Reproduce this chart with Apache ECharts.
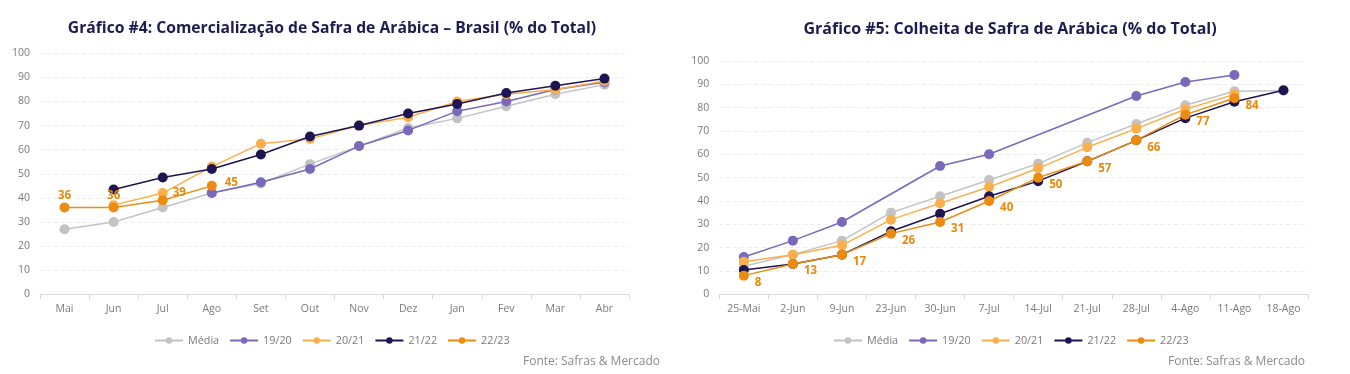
<!DOCTYPE html>
<html><head><meta charset="utf-8">
<script src="https://cdn.jsdelivr.net/npm/echarts@6/dist/echarts.min.js"></script>
<style>html,body{margin:0;padding:0;background:#fff}#c{width:1350px;height:374px}</style>
</head><body><div id="c"></div>
<script>
// Chart #4 data
const cat1 = ['Mai','Jun','Jul','Ago','Set','Out','Nov','Dez','Jan','Fev','Mar','Abr'];
const media1 = [27,30,36,42,46,54,61.5,69,73,78,83,87];
const s1920_1 = [null,null,null,42,46.5,52,61.5,68,76,80,85,88];
const s2021_1 = [null,37,42,53,62.5,64.5,70,73.5,80,83,85,88.5];
const s2122_1 = [null,43.5,48.5,52,58,65.5,70,75,79,83.5,86.5,89.5];
const s2223_1 = [36,36,39,45,null,null,null,null,null,null,null,null];
// Chart #5 data
const cat2 = ['25-Mai','2-Jun','9-Jun','23-Jun','30-Jun','7-Jul','14-Jul','21-Jul','28-Jul','4-Ago','11-Ago','18-Ago'];
const media2 = [12,17,23,35,42,49,56,65,73,81,87,87.3];
const s1920_2 = [16,23,31,null,55,60,null,null,85,91,94,null];
const s2021_2 = [14,17,21,32,39,46,54,63,71,79.3,85.7,null];
const s2122_2 = [10.4,13,17,27,34.5,42,48.5,57,66,75.5,82.5,87.5];
const s2223_2 = [8,13,17,26,31,40,50,57,66,77,84,null];
const names = ['Média','19/20','20/21','21/22','22/23'];
const colors = ['#c3c3c3','#7a68bb','#f9b04c','#1f1452','#eb8c10'];

const FONT = 'Open Sans';
const chart = echarts.init(document.getElementById('c'));
function xAxis(i, cats){
  return {type:'category', gridIndex:i, data:cats, boundaryGap:true,
    axisLine:{lineStyle:{color:'#d9d9d9'}},
    axisTick:{show:true, length:5, lineStyle:{color:'#d9d9d9'}},
    axisLabel:{color:'#7a7a7a', fontSize:10.5, fontFamily:FONT, margin:9}};
}
function yAxis(i){
  return {type:'value', gridIndex:i, min:0, max:100, interval:10,
    axisLine:{show:false}, axisTick:{show:false},
    splitLine:{lineStyle:{color:'#ececec', type:[4,3]}},
    axisLabel:{color:'#7a7a7a', fontSize:10.5, fontFamily:FONT, margin:10}};
}
const series = [];
const d1 = [media1,s1920_1,s2021_1,s2122_1,s2223_1];
const d2 = [media2,s1920_2,s2021_2,s2122_2,s2223_2];
function mk(k, data, gi, labels){
  const s = {name:names[k], type:'line', xAxisIndex:gi, yAxisIndex:gi, data:data,
    connectNulls:true, symbol:'circle', symbolSize:10, color:colors[k],
    lineStyle:{width:1.5, color:colors[k]}, itemStyle:{color:colors[k]},
    emphasis:{disabled:true}, animation:false, z:2+k};
  if (labels) s.label = labels;
  return s;
}
const lab1 = {show:true, color:'#e8890c', fontWeight:'bold', fontSize:11.5, fontFamily:FONT,
  formatter:p=>p.value==null?'':p.value, position:'top', distance:1};
const s4 = mk(4, s2223_1.map((v,i)=>{
  if (i===2) return {value:v, label:{position:'right', distance:5, offset:[0,-8]}};
  if (i===3) return {value:v, label:{position:'right', distance:6, offset:[2,-3]}};
  return v;
}), 0, lab1);
s4.z = 10;
for (let k=0;k<4;k++) series.push(mk(k, d1[k], 0));
series.push(s4);
const lab2 = {show:true, color:'#e8890c', fontWeight:'bold', fontSize:11.5, fontFamily:FONT,
  formatter:p=>p.value==null?'':p.value, position:'right', distance:6, offset:[0,7]};
for (let k=0;k<4;k++) series.push(mk(k, d2[k], 1));
series.push(mk(4, s2223_2, 1, lab2));

function legend(left){
  return {data:names, left:left, top:330, itemWidth:28, itemHeight:8, itemGap:10,
    textStyle:{color:'#7a7a7a', fontSize:10.8, fontFamily:FONT}};
}
chart.setOption({
  animation:false,
  title:[
    {text:'Gráfico #4: Comercialização de Safra de Arábica – Brasil (% do Total)', left:327, top:16, textAlign:'center',
      textStyle:{color:'#1d1b4f', fontSize:15.7, fontWeight:'bold', fontFamily:FONT}},
    {text:'Gráfico #5: Colheita de Safra de Arábica (% do Total)', left:1005, top:16, textAlign:'center',
      textStyle:{color:'#1d1b4f', fontSize:16, fontWeight:'bold', fontFamily:FONT}},
    {text:'Fonte: Safras & Mercado', right:685, top:351, textStyle:{color:'#8a8a8a', fontSize:12, fontWeight:'normal', fontFamily:FONT}},
    {text:'Fonte: Safras & Mercado', right:40, top:351, textStyle:{color:'#8a8a8a', fontSize:12, fontWeight:'normal', fontFamily:FONT}}
  ],
  legend:[legend(149), legend(828)],
  grid:[
    {left:40, right:721, top:53.3, bottom:79.7},
    {left:719.3, right:42, top:61, bottom:79.7}
  ],
  xAxis:[xAxis(0,cat1), xAxis(1,cat2)],
  yAxis:[yAxis(0), yAxis(1)],
  series:series
});
</script></body></html>
